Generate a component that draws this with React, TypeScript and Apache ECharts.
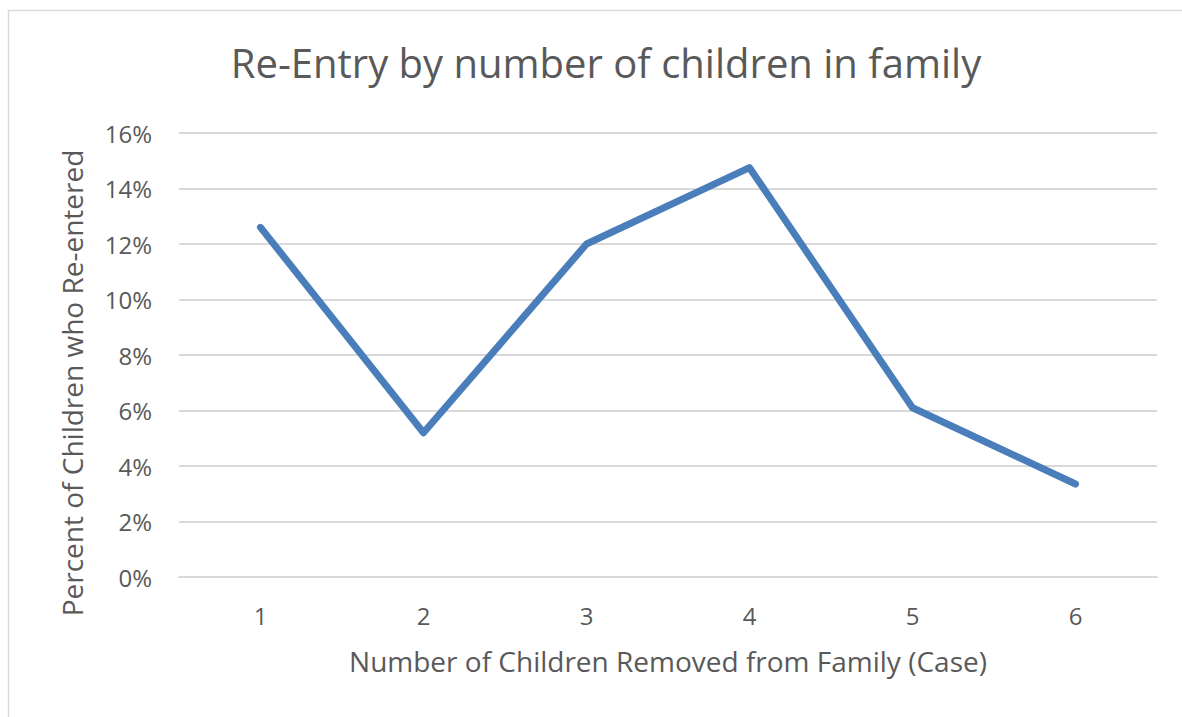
import React, { useEffect, useRef } from "react";
import * as echarts from "echarts";

const categories = ["1", "2", "3", "4", "5", "6"];
const reEntryPct = [12.6, 5.2, 12.0, 14.75, 6.1, 3.35];
const yTicks = [0, 2, 4, 6, 8, 10, 12, 14, 16];

const titleText = "Re-Entry by number of children in family";
const xName = "Number of Children Removed from Family (Case)";
const yName = "Percent of Children who Re-entered";

const FONT = "'Open Sans', sans-serif";
const GRAY = "#595959";

export default function App() {
  const ref = useRef<HTMLDivElement>(null);
  useEffect(() => {
    if (!ref.current) return;
    const chart = echarts.init(ref.current, null, { renderer: "svg" });
    chart.setOption({
      animation: false,
      backgroundColor: "#ffffff",
      title: {
        text: titleText,
        left: 601,
        top: 37,
        textAlign: "center",
        textStyle: { fontFamily: FONT, fontSize: 40, fontWeight: "normal", color: GRAY },
      },
      graphic: [
        {
          type: "rect",
          shape: { x: 8.5, y: 10.5, width: 1190, height: 730 },
          style: { fill: "none", stroke: "#d9d9d9", lineWidth: 1.5 },
          silent: true,
        },
        {
          type: "text",
          x: 72,
          y: 383,
          rotation: Math.PI / 2,
          style: {
            text: yName,
            fontFamily: FONT,
            fontSize: 28,
            fill: GRAY,
            align: "center",
            verticalAlign: "middle",
          },
        },
      ],
      grid: { left: 179, right: 25, top: 133, bottom: 140, containLabel: false },
      xAxis: {
        type: "category",
        data: categories,
        boundaryGap: true,
        name: xName,
        nameLocation: "middle",
        nameGap: 70,
        nameTextStyle: { fontFamily: FONT, fontSize: 28, color: GRAY },
        axisLine: { show: true, lineStyle: { color: "#d9d9d9", width: 2 } },
        axisTick: { show: false },
        axisLabel: { fontFamily: FONT, fontSize: 24, color: GRAY, margin: 26 },
      },
      yAxis: {
        type: "value",
        min: yTicks[0],
        max: yTicks[yTicks.length - 1],
        interval: 2,
        axisLine: { show: false },
        axisTick: { show: false },
        splitLine: { lineStyle: { color: "#d9d9d9", width: 2 } },
        axisLabel: {
          fontFamily: FONT,
          fontSize: 24,
          color: GRAY,
          margin: 27,
          formatter: (v: number) => `${v}%`,
        },
      },
      series: [
        {
          type: "line",
          data: reEntryPct,
          symbol: "none",
          lineStyle: { color: "#4a7ebb", width: 7, cap: "round", join: "round" },
        },
      ],
    });
    return () => chart.dispose();
  }, []);
  return (
    <div
      ref={ref}
      style={{ position: "fixed", left: 0, top: 0, width: 1182, height: 717 }}
    />
  );
}
